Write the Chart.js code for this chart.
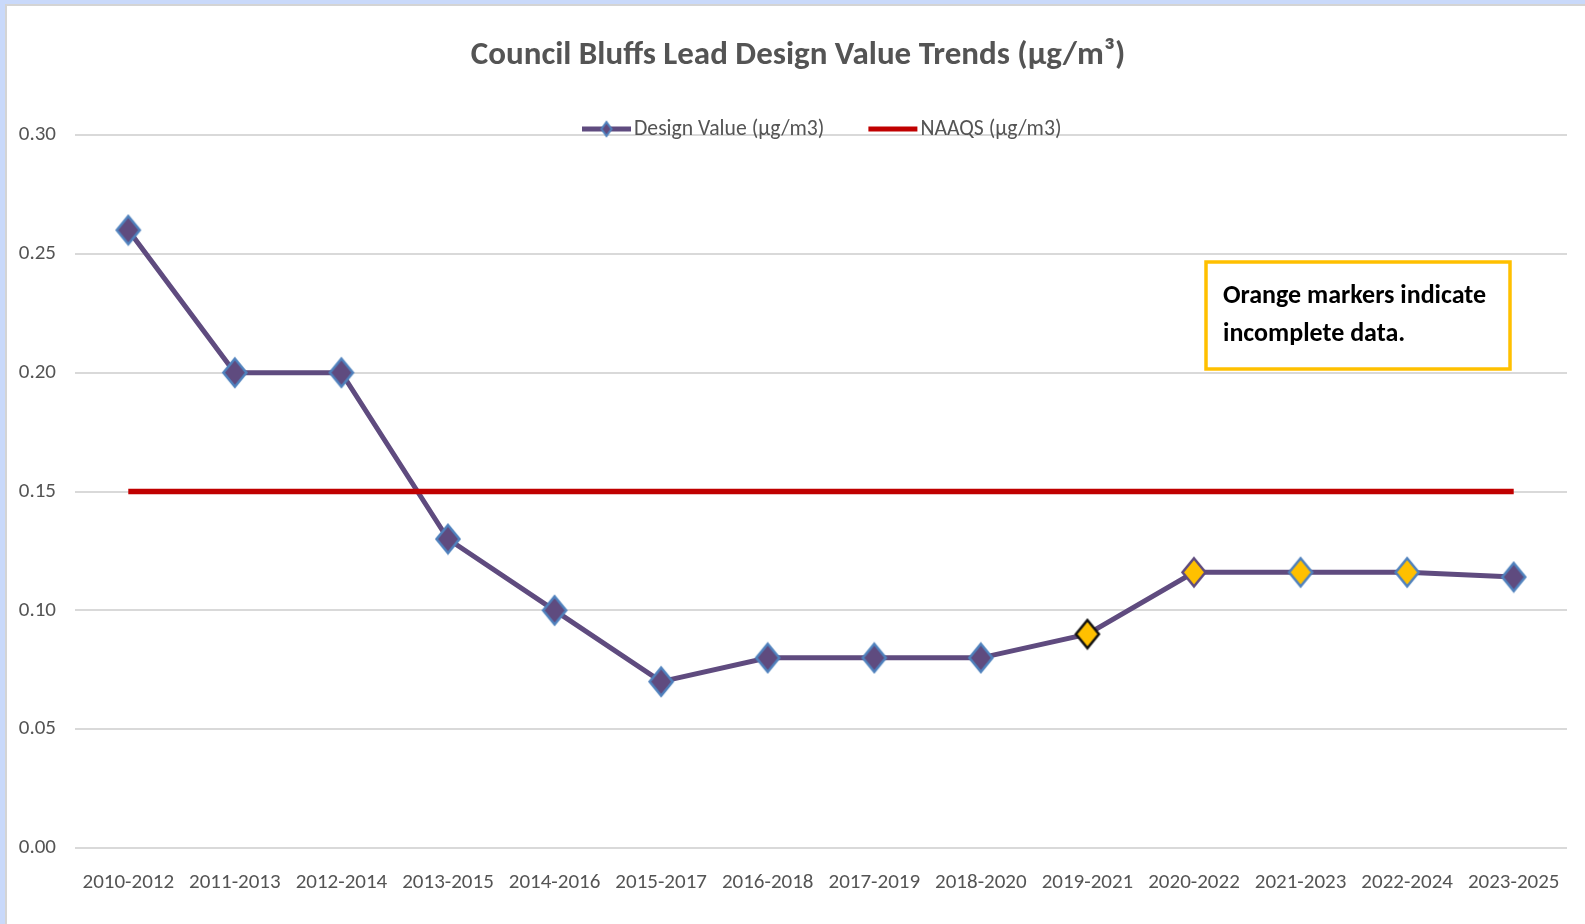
<!DOCTYPE html>
<html>
<head>
<meta charset="utf-8">
<script src="https://cdn.jsdelivr.net/npm/chart.js@4.4.1/dist/chart.umd.min.js"></script>
<style>
  html, body { margin: 0; padding: 0; background: #C9D9FA; }
  #frame {
    position: absolute; left: 5px; top: 4px; width: 1580px; height: 920px;
    background: #fff; border-left: 2px solid #D4D4D4; border-top: 2px solid #D4D4D4;
    box-sizing: border-box;
  }
  #wrap { position: absolute; left: 0; top: 0; width: 1585px; height: 924px; }
</style>
</head>
<body>
<div id="frame"></div>
<div id="wrap"><canvas id="chart"></canvas></div>
<script>
// Data
const chartTitle = 'Council Bluffs Lead Design Value Trends (µg/m³)';
const periods = ['2010-2012', '2011-2013', '2012-2014', '2013-2015', '2014-2016', '2015-2017', '2016-2018',
  '2017-2019', '2018-2020', '2019-2021', '2020-2022', '2021-2023', '2022-2024', '2023-2025'];
const designValues = [0.26, 0.20, 0.20, 0.13, 0.10, 0.07, 0.08, 0.08, 0.08, 0.09, 0.116, 0.116, 0.116, 0.114];
const naaqsValues = [0.15, 0.15, 0.15, 0.15, 0.15, 0.15, 0.15, 0.15, 0.15, 0.15, 0.15, 0.15, 0.15, 0.15];
const yTicks = [0, 0.05, 0.10, 0.15, 0.20, 0.25, 0.30];

// marker styles (orange = incomplete data)
const PURPLE = '#5F4B7F', BLUE = '#4F81BD', ORANGE = '#FFC000', RED = '#C00000';
const markerFill = [PURPLE, PURPLE, PURPLE, PURPLE, PURPLE, PURPLE, PURPLE, PURPLE, PURPLE,
  ORANGE, ORANGE, ORANGE, ORANGE, PURPLE];
const markerBorder = [BLUE, BLUE, BLUE, BLUE, BLUE, BLUE, BLUE, BLUE, BLUE,
  '#111111', PURPLE, BLUE, BLUE, BLUE];

const FONT = "Carlito, Calibri, 'Open Sans', sans-serif";
const TEXT = '#545454';

function diamond(fill, stroke, hw, hh, lw) {
  const c = document.createElement('canvas');
  c.width = Math.ceil(hw * 2 + lw * 2); c.height = Math.ceil(hh * 2 + lw * 2);
  const g = c.getContext('2d');
  const cx = c.width / 2, cy = c.height / 2;
  g.beginPath();
  g.moveTo(cx, cy - hh); g.lineTo(cx + hw, cy); g.lineTo(cx, cy + hh); g.lineTo(cx - hw, cy);
  g.closePath();
  g.fillStyle = fill; g.fill();
  g.lineWidth = lw; g.strokeStyle = stroke; g.stroke();
  return c;
}
const markers = markerFill.map((f, i) => diamond(f, markerBorder[i], 11.5, 14, 2.5));

// title, legend and note box
const extras = {
  id: 'extras',
  afterDraw(chart) {
    const ctx = chart.ctx;
    ctx.save();
    ctx.textBaseline = 'middle';
    // title (Excel centres it a bit right of the canvas middle)
    ctx.font = 'bold 33px ' + FONT; ctx.fillStyle = TEXT; ctx.textAlign = 'center';
    ctx.fillText(chartTitle, 798, 56);
    // legend
    let x = 582; const y = 130;
    ctx.textAlign = 'left';
    chart.data.datasets.forEach((ds, i) => {
      ctx.strokeStyle = ds.borderColor; ctx.lineWidth = 5;
      ctx.beginPath(); ctx.moveTo(x, y - 1); ctx.lineTo(x + 49, y - 1); ctx.stroke();
      if (i === 0) {
        ctx.drawImage(diamond(PURPLE, BLUE, 5, 7, 2), x + 24.5 - 7, y - 10);
      }
      ctx.font = '21.7px ' + FONT; ctx.fillStyle = TEXT;
      ctx.fillText(ds.label, x + 52, y);
      x += 52 + ctx.measureText(ds.label).width + 44;
    });
    // note box
    ctx.strokeStyle = ORANGE; ctx.lineWidth = 3.5;
    ctx.strokeRect(1206, 262, 304, 107);
    ctx.font = 'bold 26px ' + FONT; ctx.fillStyle = '#000';
    ctx.fillText('Orange markers indicate', 1223, 296);
    ctx.fillText('incomplete data.', 1223, 334);
    ctx.restore();
  }
};

new Chart(document.getElementById('chart'), {
  type: 'line',
  data: {
    labels: periods,
    datasets: [
      {
        label: 'Design Value (µg/m3)',
        data: designValues,
        borderColor: PURPLE,
        borderWidth: 5,
        pointStyle: markers,
        pointRadius: 12,
        order: 1
      },
      {
        label: 'NAAQS (µg/m3)',
        data: naaqsValues,
        borderColor: RED,
        borderWidth: 5.5,
        pointRadius: 0,
        order: 0
      }
    ]
  },
  options: {
    responsive: true,
    maintainAspectRatio: false,
    animation: false,
    events: [],
    layout: { padding: { top: 135, right: 18, bottom: 0, left: 0 } },
    plugins: {
      legend: { display: false },
      tooltip: { enabled: false },
      title: { display: false }
    },
    scales: {
      x: {
        offset: true,
        grid: { display: false },
        border: { display: false },
        ticks: { color: TEXT, font: { family: FONT, size: 21 }, padding: 14, maxRotation: 0, autoSkip: false },
        afterFit(scale) { scale.height = 76; }
      },
      y: {
        min: 0,
        max: 0.3,
        afterBuildTicks(scale) { scale.ticks = yTicks.map(v => ({ value: v })); },
        grid: { color: '#D9D9D9', lineWidth: 2, drawTicks: false },
        border: { display: false },
        ticks: { color: TEXT, font: { family: FONT, size: 21 }, padding: 19, callback: v => v.toFixed(2) },
        afterFit(scale) { scale.width = 75; }
      }
    }
  },
  plugins: [extras]
});
</script>
</body>
</html>
